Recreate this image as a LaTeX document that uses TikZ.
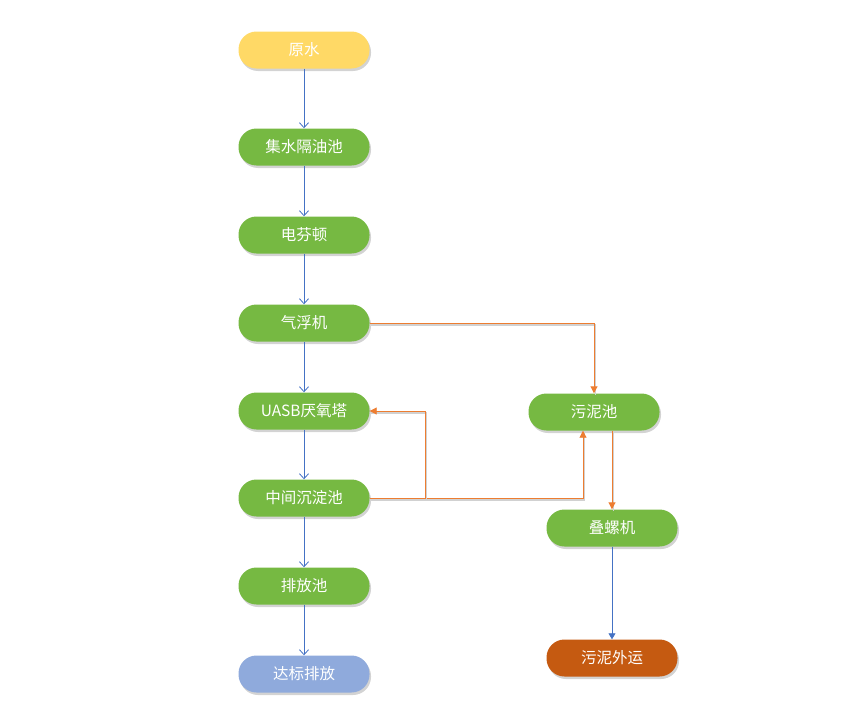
\documentclass[tikz,border=0pt]{standalone}
\usepackage{fontspec}
\setmainfont{Noto Sans CJK SC}
\usetikzlibrary{arrows.meta,shadows}
\definecolor{gr}{HTML}{76B942}
\definecolor{yl}{HTML}{FFD966}
\definecolor{lb}{HTML}{8FAADC}
\definecolor{br}{HTML}{C55A11}
\definecolor{bl}{HTML}{4472C4}
\definecolor{org}{HTML}{ED7D31}
\begin{document}
\begin{tikzpicture}[x=1pt,y=-1pt,
  box/.style={draw=none,fill=gr,text=white,minimum width=131pt,minimum height=37pt,
    rounded corners=18pt,font=\fontsize{15.5}{18}\selectfont,
    drop shadow={opacity=0.35,shadow xshift=1.5pt,shadow yshift=-2.5pt}},
  bline/.style={draw=bl,line width=0.8pt,-{Straight Barb[length=5pt,width=9pt]}},
  bline2/.style={draw=bl,line width=0.8pt,-{Triangle[length=6pt,width=7pt]}},
  oline/.style={draw=org,line width=0.9pt,-{Triangle[length=7pt,width=7pt]},
    preaction={draw=black!18,line width=1.4pt,-,transform canvas={shift={(1.2pt,-1.8pt)}}}}]
\useasboundingbox (0,0) rectangle (857,720);
\node[box,fill=yl] (ys) at (304,50) {原水};
\node[box] (jy) at (304,147) {集水隔油池};
\node[box] (df) at (304,235) {电芬顿};
\node[box] (qf) at (304,323) {气浮机};
\node[box] (ua) at (304,411) {UASB厌氧塔};
\node[box] (zj) at (304,498) {中间沉淀池};
\node[box] (pf) at (304,586) {排放池};
\node[box,fill=lb] (db) at (304,674) {达标排放};
\node[box] (wn) at (594,412) {污泥池};
\node[box] (dl) at (612,528) {叠螺机};
\node[box,fill=br] (wy) at (612,658) {污泥外运};
\draw[bline] (ys) -- (jy);
\draw[bline] (jy) -- (df);
\draw[bline] (df) -- (qf);
\draw[bline] (qf) -- (ua);
\draw[bline] (ua) -- (zj);
\draw[bline] (zj) -- (pf);
\draw[bline] (pf) -- (db);
\draw[bline2] (dl) -- (wy);
\coordinate (a1) at (594,323);
\draw[oline] (qf.east) -- (a1) -- (wn.north);
\coordinate (b1) at (583,498);
\coordinate (b2) at (583,431);
\draw[oline] (zj.east) -- (b1) -- (wn.south -| b2);
\coordinate (c1) at (425,498);
\coordinate (c2) at (425,411);
\draw[oline] (c1) -- (c2) -- (ua.east);
\draw[oline] (wn.south -| dl.north) -- (dl.north);
\end{tikzpicture}
\end{document}
